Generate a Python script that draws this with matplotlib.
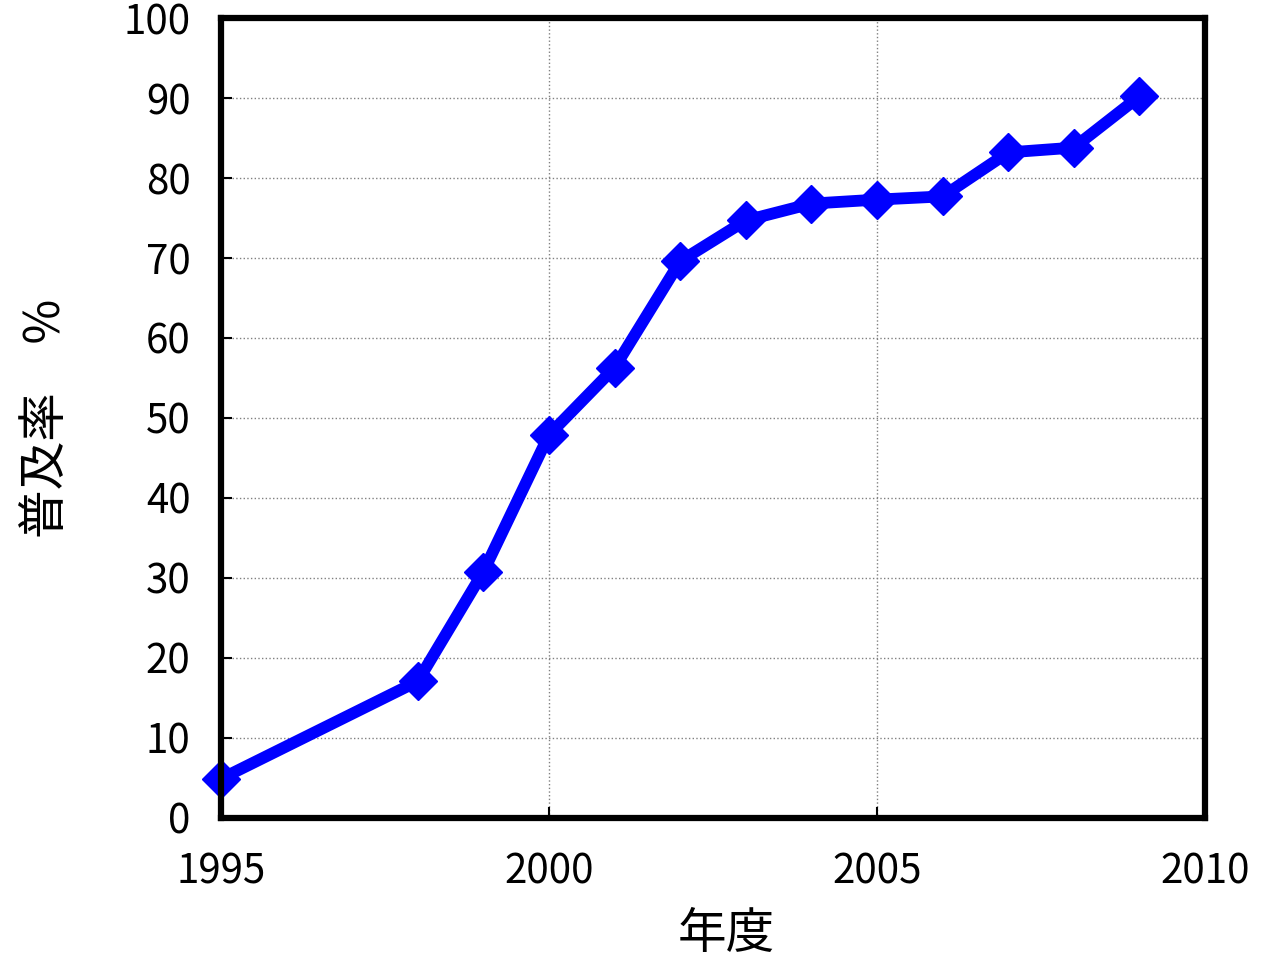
import matplotlib
matplotlib.use("Agg")
import matplotlib.pyplot as plt

plt.rcParams['font.family'] = ['Noto Sans CJK JP', 'DejaVu Sans']

# data
years = [1995, 1998, 1999, 2000, 2001, 2002, 2003, 2004, 2005, 2006, 2007, 2008, 2009]
rate = [4.9, 17.1, 30.8, 47.9, 56.3, 69.6, 74.7, 76.8, 77.3, 77.7, 83.2, 83.8, 90.2]
x_ticks = [1995, 2000, 2005, 2010]
y_ticks = list(range(0, 101, 10))

fig = plt.figure(figsize=(12.61, 9.64), dpi=100)
ax = fig.add_axes([0.1753, 0.1515, 0.7803, 0.8298])

ax.plot(years, rate, color='#0000ff', linewidth=8.5, marker='D',
        markersize=19, markeredgecolor='#0000ff', clip_on=False, zorder=3)

ax.set_xlim(1995, 2010)
ax.set_ylim(0, 100)
ax.set_xticks(x_ticks)
ax.set_yticks(y_ticks)
ax.grid(True, color='#808080', linestyle=':', linewidth=1)

for s in ax.spines.values():
    s.set_linewidth(4.5)
    s.set_zorder(4)

ax.tick_params(axis='both', direction='in', length=8, width=1.5, labelsize=29)
ax.tick_params(axis='x', pad=24)
ax.tick_params(axis='y', pad=22)

ax.set_xlabel('年度', fontsize=35, labelpad=20)
ax.xaxis.set_label_coords(0.513, -0.115)
ax.set_ylabel('普及率　%', fontsize=35, labelpad=38)

fig.savefig('out.png', dpi=100)
